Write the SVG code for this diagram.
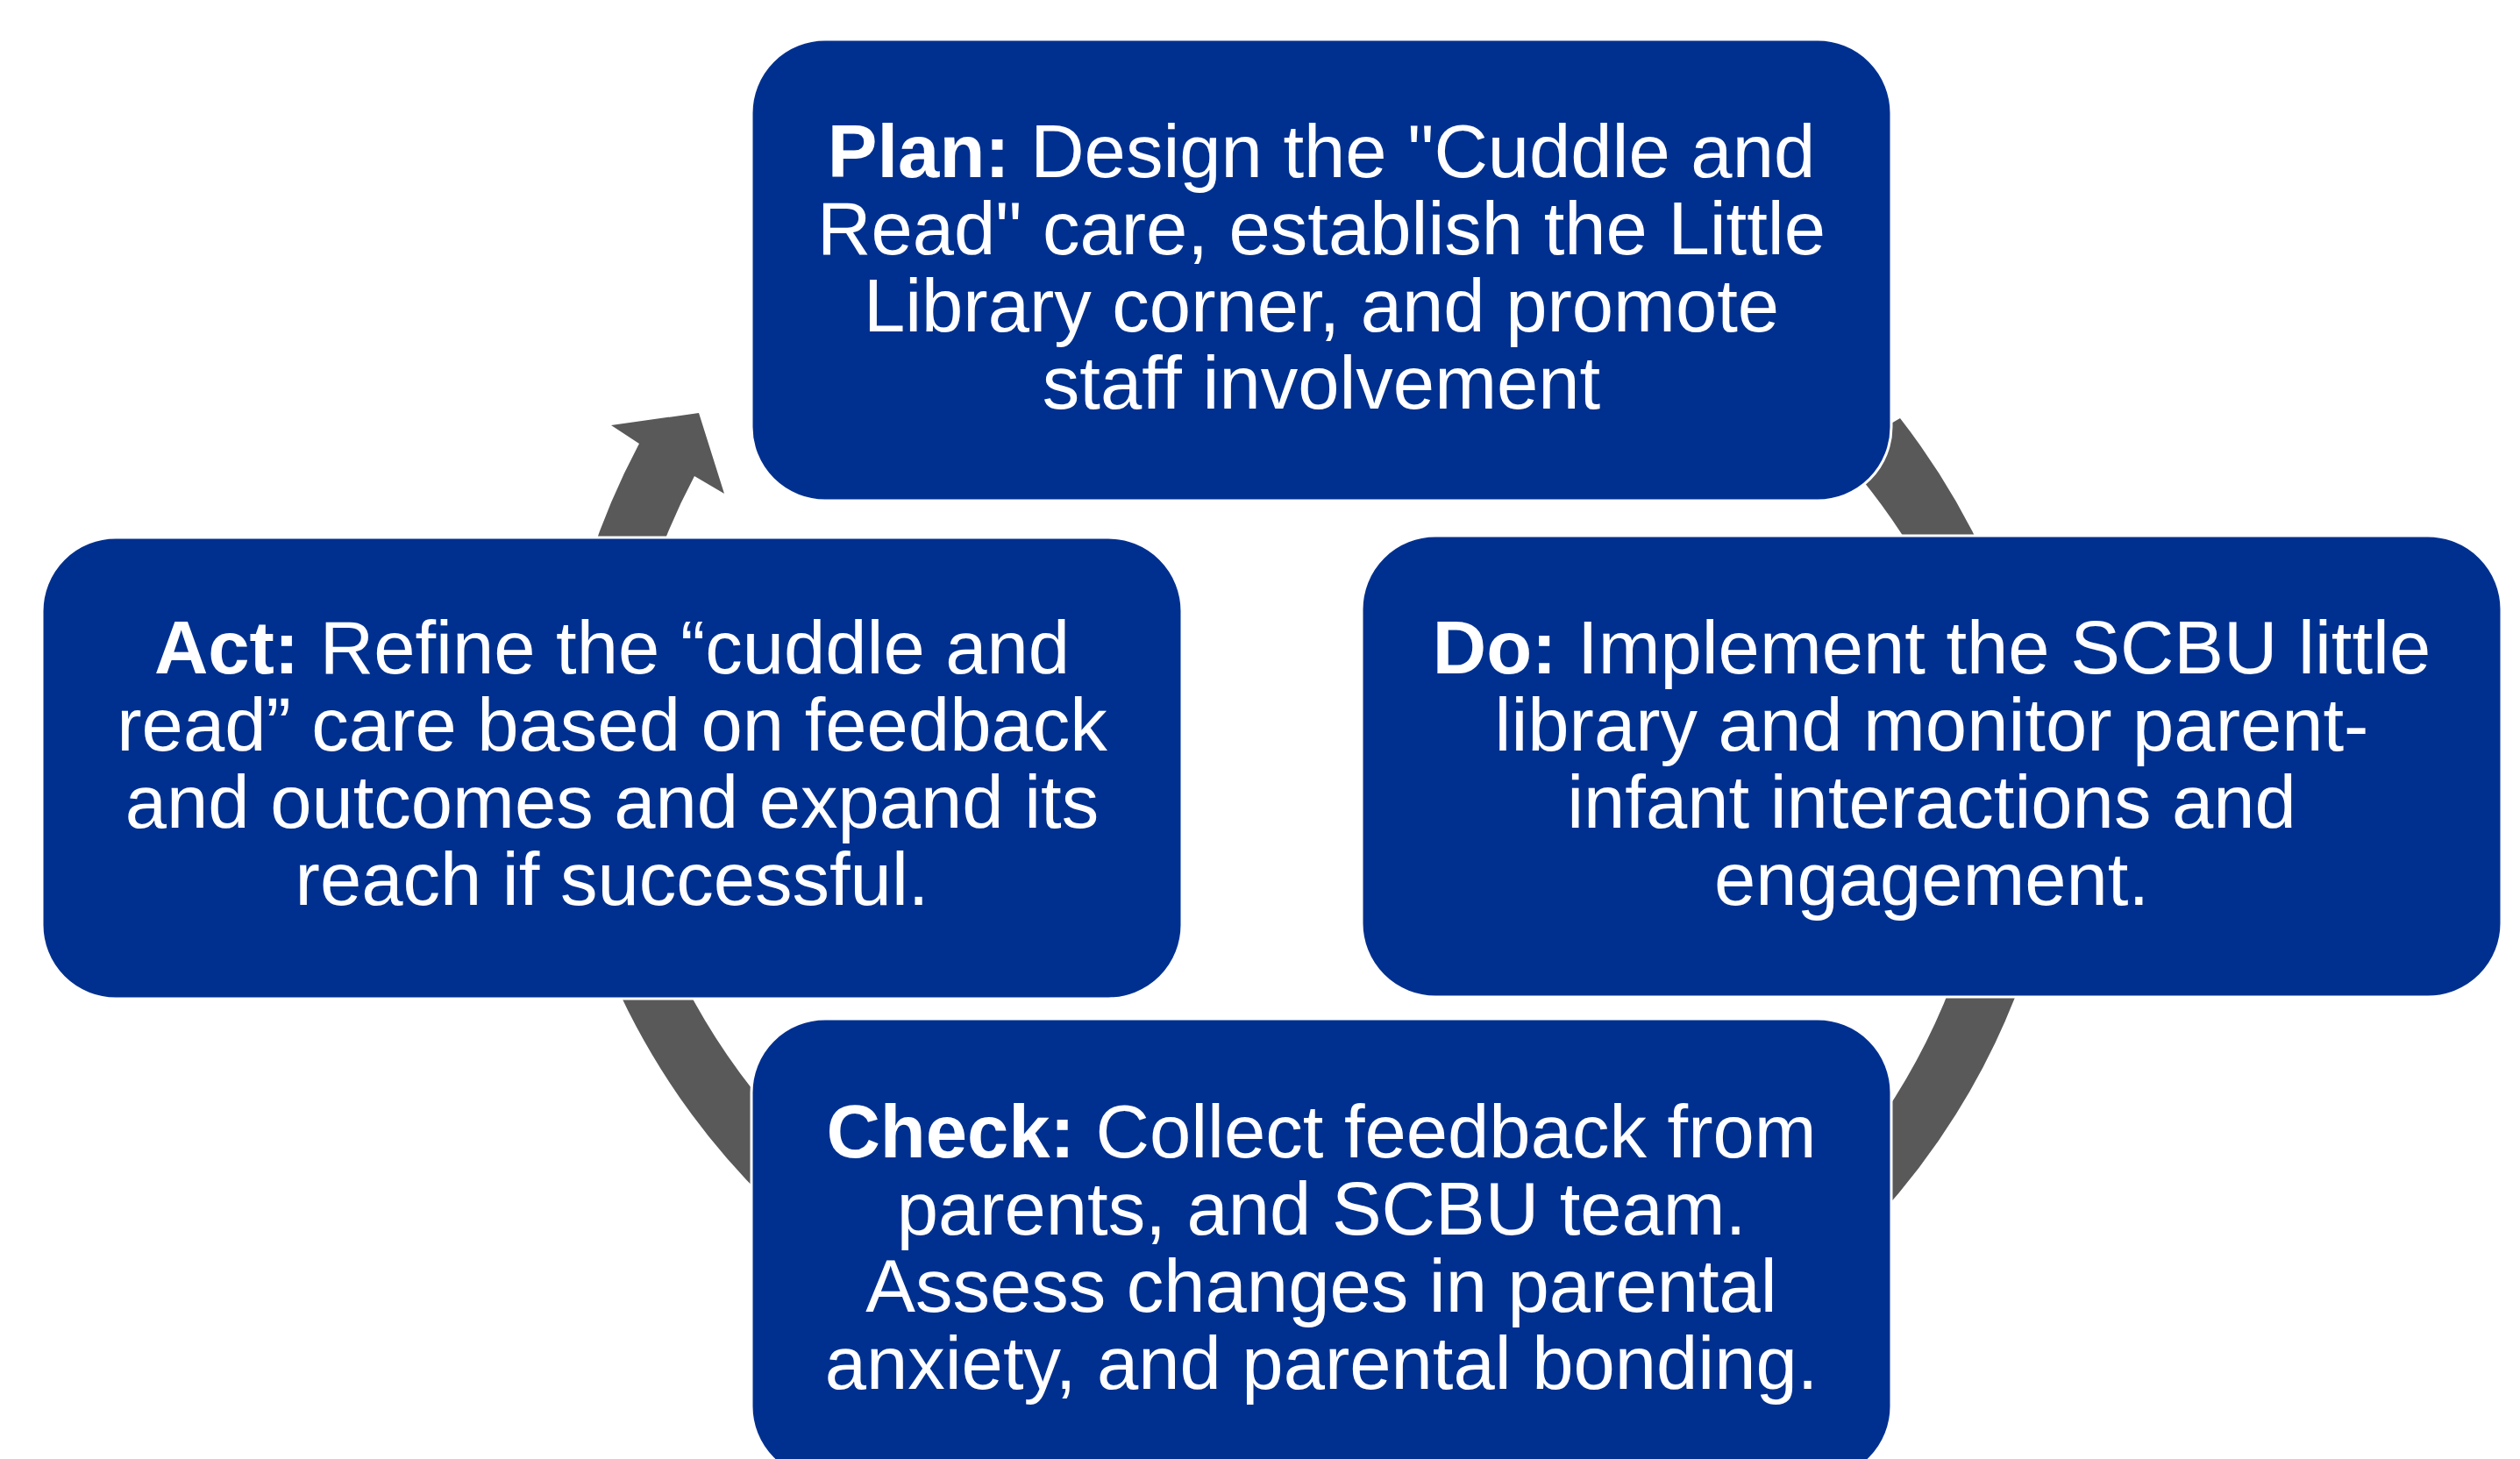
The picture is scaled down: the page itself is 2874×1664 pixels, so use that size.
<svg xmlns="http://www.w3.org/2000/svg" width="2874" height="1664" viewBox="0 0 2874 1664">
<style>
.box{fill:#00308F;stroke:#ffffff;stroke-width:3}
.arc{fill:#595959;stroke:none}
.t{font-family:"Liberation Sans",Arial,sans-serif;font-size:85px;fill:#ffffff;text-anchor:middle}
.b{font-weight:bold}
</style>
<rect width="2874" height="1664" fill="#ffffff"/>
<g id="connectors">
<path class="arc" d="M 2167,477 A 830 830 0 0 1 2266,640 L 2188,640 A 750 750 0 0 0 2098,517 Z"/>
<path class="arc" d="M 2312,1100 A 830 830 0 0 1 2140,1390 L 2128,1300 A 750 750 0 0 0 2234,1100 Z"/>
<path class="arc" d="M 692,1100 A 830 830 0 0 0 875,1370 L 874,1262 A 750 750 0 0 1 770,1100 Z"/>
<path class="arc" d="M 672,640 A 830 830 0 0 1 729,506 L 697,485 L 797,471 L 826,563 L 792,543 A 750 750 0 0 0 749,640 Z"/>
</g>
<g id="plan">
<rect class="box" x="857" y="45" width="1300" height="526" rx="84" ry="84"/>
<text class="t" x="1507" y="202"><tspan class="b">Plan:</tspan> Design the "Cuddle and</text>
<text class="t" x="1507" y="290">Read" care, establish the Little</text>
<text class="t" x="1507" y="378">Library corner, and promote</text>
<text class="t" x="1507" y="466">staff involvement</text>
</g>
<g id="do">
<rect class="box" x="1553" y="611" width="1300" height="526" rx="84" ry="84"/>
<text class="t" x="2203" y="768"><tspan class="b">Do:</tspan> Implement the SCBU little</text>
<text class="t" x="2203" y="856">library and monitor parent-</text>
<text class="t" x="2203" y="944">infant interactions and</text>
<text class="t" x="2203" y="1032">engagement.</text>
</g>
<g id="check">
<rect class="box" x="857" y="1162" width="1300" height="526" rx="84" ry="84"/>
<text class="t" x="1507" y="1320"><tspan class="b">Check:</tspan> Collect feedback from</text>
<text class="t" x="1507" y="1408">parents, and SCBU team.</text>
<text class="t" x="1507" y="1496">Assess changes in parental</text>
<text class="t" x="1507" y="1584">anxiety, and parental bonding.</text>
</g>
<g id="act">
<rect class="box" x="48" y="613" width="1300" height="526" rx="84" ry="84"/>
<text class="t" x="698" y="768"><tspan class="b">Act:</tspan> Refine the “cuddle and</text>
<text class="t" x="698" y="856">read” care based on feedback</text>
<text class="t" x="698" y="944">and outcomes and expand its</text>
<text class="t" x="698" y="1032">reach if successful.</text>
</g>
</svg>
